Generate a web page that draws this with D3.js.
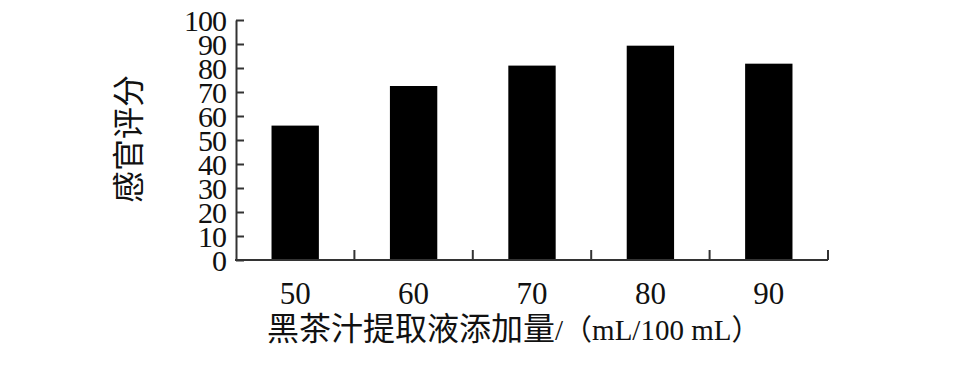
<!DOCTYPE html>
<html>
<head>
<meta charset="utf-8">
<script src="https://cdn.jsdelivr.net/npm/d3@7"></script>
<style>
  body { margin: 0; background: #fff; }
  text { font-family: "Liberation Serif", "Noto Sans CJK SC", serif; fill: #111; }
</style>
</head>
<body>
<main></main>
<script>
const categories = ["50", "60", "70", "80", "90"];
const scores = [56, 72.5, 81, 89.3, 81.8];
const yTicks = [0, 10, 20, 30, 40, 50, 60, 70, 80, 90, 100];
const xTitle = "黑茶汁提取液添加量";
const xUnit = "/（mL/100 mL）";
const yTitle = "感官评分";

const width = 957, height = 371;
const svg = d3.select("main").append("svg").attr("width", width).attr("height", height);

const x = d3.scaleBand().domain(categories).range([236, 828]).paddingInner(0.6).paddingOuter(0.3);
const y = d3.scaleLinear().domain([0, 100]).range([260, 20]);

// bars
svg.append("g")
    .selectAll("rect")
    .data(categories)
    .join("rect")
    .attr("x", d => x(d))
    .attr("width", x.bandwidth())
    .attr("y", (d, i) => y(scores[i]))
    .attr("height", (d, i) => y(0) - y(scores[i]))
    .attr("fill", "#000");

// y axis, ticks pointing inward
const yAxis = svg.append("g")
    .attr("transform", "translate(236,0)")
    .call(d3.axisRight(y).tickValues(yTicks).tickSize(8).tickSizeOuter(0).tickFormat(""));
yAxis.selectAll("path, line").attr("stroke", "#333").attr("stroke-width", 2);

svg.append("g")
    .selectAll("text")
    .data(yTicks)
    .join("text")
    .attr("x", 226)
    .attr("y", d => y(d))
    .attr("dy", "0.35em")
    .attr("text-anchor", "end")
    .attr("font-size", 30)
    .attr("letter-spacing", -1)
    .text(d => d);

// x axis, separators between bands pointing up
const step = x.step();
const sep = d3.range(1, categories.length + 1).map(i => 236 + step * i);
const xAxis = svg.append("g");
xAxis.append("line")
    .attr("x1", 235).attr("x2", 236 + step * categories.length)
    .attr("y1", y(0)).attr("y2", y(0))
    .attr("stroke", "#333").attr("stroke-width", 2);
xAxis.selectAll(".sep")
    .data(sep)
    .join("line")
    .attr("class", "sep")
    .attr("x1", d => d).attr("x2", d => d)
    .attr("y1", y(0)).attr("y2", y(0) - 10)
    .attr("stroke", "#333").attr("stroke-width", 2);

svg.append("g")
    .selectAll("text")
    .data(categories)
    .join("text")
    .attr("x", d => x(d) + x.bandwidth() / 2)
    .attr("y", 304)
    .attr("text-anchor", "middle")
    .attr("font-size", 31)
    .text(d => d);

const xt = svg.append("text")
    .attr("x", 267)
    .attr("y", 340);
xt.append("tspan").attr("font-size", 32).text(xTitle);
xt.append("tspan").attr("font-size", 29).text(xUnit);

svg.append("text")
    .attr("transform", "translate(140,139) rotate(-90)")
    .attr("text-anchor", "middle")
    .attr("font-size", 32)
    .text(yTitle);
</script>
</body>
</html>
